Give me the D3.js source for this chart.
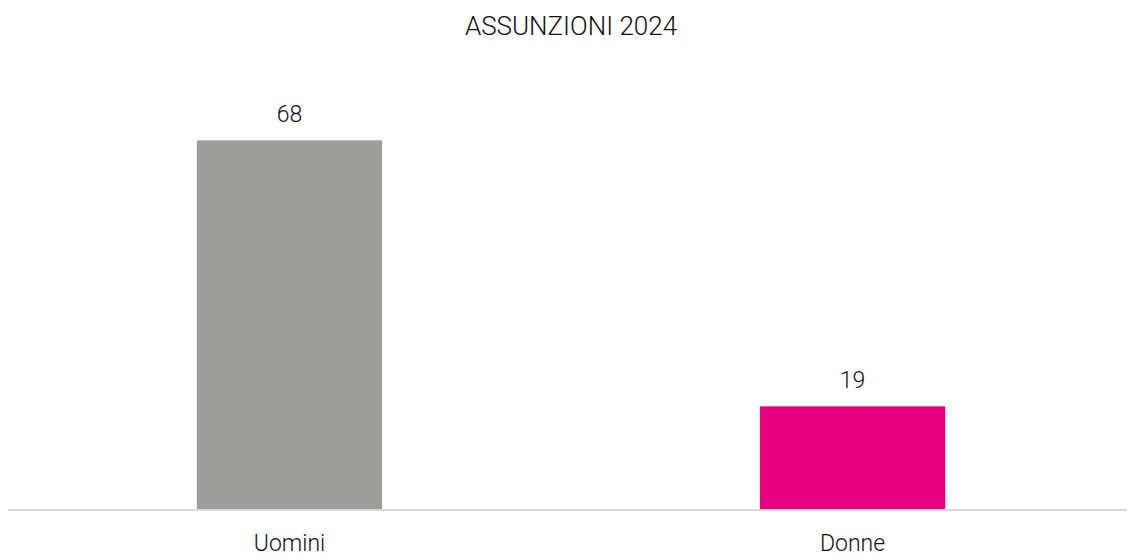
<!DOCTYPE html>
<html>
<head>
<meta charset="utf-8">
<script src="https://cdn.jsdelivr.net/npm/d3@7"></script>
<style>
  body { margin: 0; background: white; }
  text { font-family: Roboto, "DejaVu Sans", sans-serif; font-weight: 300; fill: #111; }
</style>
</head>
<body>
<div id="container"></div>
<script>
let w = 1127;
let h = 557;

let categories = ["Uomini", "Donne"];
let values = [68, 19];
let colors = ["#9d9d9c", "#e6007e"];
let title = "ASSUNZIONI 2024";

let viz = d3.select("#container")
  .append("svg")
    .attr("width", w)
    .attr("height", h)
    .style("background-color", "white")
;

let xScale = d3.scaleBand()
  .domain(categories)
  .range([8, 1134])
  .paddingInner(0.671)
  .paddingOuter(0.3355)
;

let yScale = d3.scaleLinear().domain([0, 70]).range([509.5, 129.5]);

// title
viz.append("text")
  .attr("x", 571)
  .attr("y", 35)
  .attr("text-anchor", "middle")
  .style("font-size", "26px")
  .text(title)
;

// bars
viz.selectAll(".bar").data(values).enter()
  .append("rect")
    .classed("bar", true)
    .attr("x", (d, i) => xScale(categories[i]))
    .attr("y", d => yScale(d))
    .attr("width", xScale.bandwidth())
    .attr("height", d => yScale(0) - yScale(d))
    .style("fill", (d, i) => colors[i])
;

// value labels
viz.selectAll(".val").data(values).enter()
  .append("text")
    .classed("val", true)
    .attr("x", (d, i) => xScale(categories[i]) + xScale.bandwidth() / 2)
    .attr("y", d => yScale(d) - 18)
    .attr("text-anchor", "middle")
    .style("font-size", "23px")
    .text(d => d)
;

// baseline
viz.append("line")
  .attr("x1", 8)
  .attr("x2", w)
  .attr("y1", yScale(0) + 0.5)
  .attr("y2", yScale(0) + 0.5)
  .style("stroke", "#d9d9d9")
  .style("stroke-width", 2)
;

// category labels
let xAxis = d3.axisBottom(xScale).tickSize(0).tickPadding(0);
let axisG = viz.append("g")
  .attr("transform", "translate(0, 510)")
  .call(xAxis)
;
axisG.select(".domain").remove();
axisG.selectAll("text")
  .attr("y", 41)
  .attr("dy", 0)
  .style("font-size", "23px")
  .style("font-family", "Roboto, 'DejaVu Sans', sans-serif")
  .style("font-weight", 300)
  .style("fill", "#111")
;
</script>
</body>
</html>
